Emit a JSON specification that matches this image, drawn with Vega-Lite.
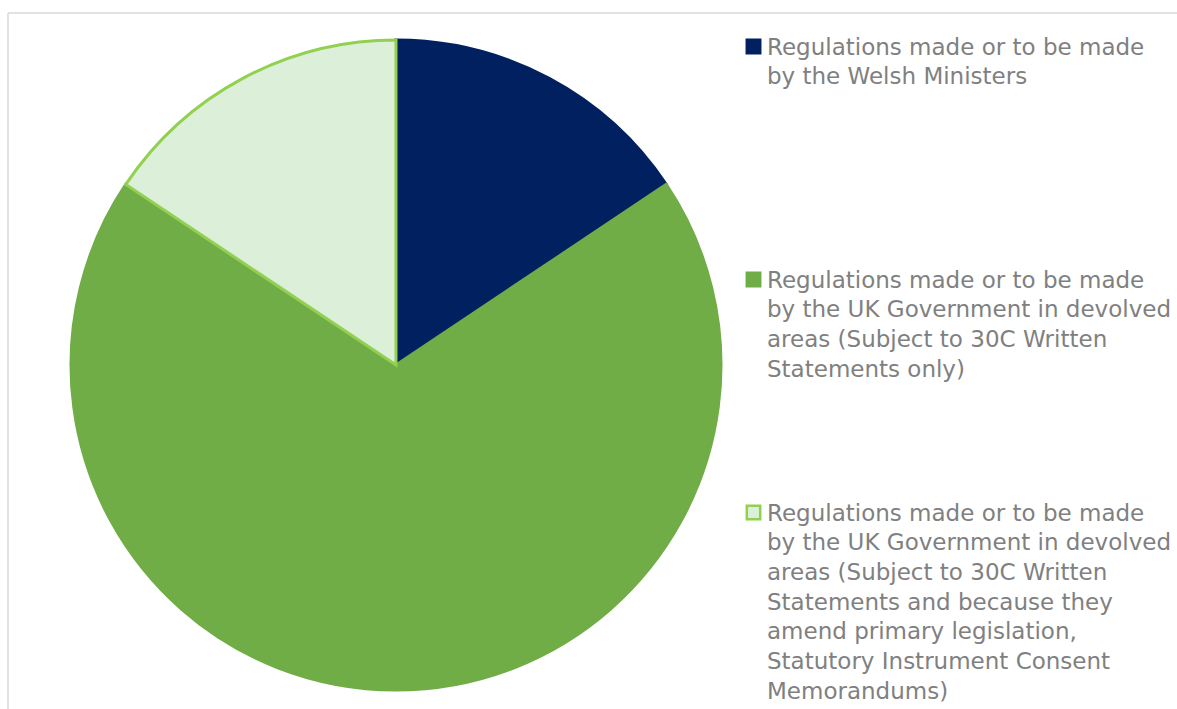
{
  "$schema": "https://vega.github.io/schema/vega-lite/v6.json",
  "autosize": "none",
  "padding": {"left": 8, "top": 13, "right": 0, "bottom": 0},
  "width": 1169,
  "height": 696,
  "background": "white",
  "view": {"stroke": "#d9d9d9", "strokeWidth": 1.5, "strokeDash": [1169, 1865, 696, 0]},
  "data": {"values": [
    {"category": "Regulations made or to be made by the Welsh Ministers", "count": 5, "n": 1},
    {"category": "Regulations made or to be made by the UK Government in devolved areas (Subject to 30C Written Statements only)", "count": 22, "n": 2},
    {"category": "Regulations  made or to be made by the UK Government in devolved areas (Subject to 30C Written Statements and because they amend primary legislation, Statutory Instrument Consent Memorandums)", "count": 5, "n": 3}
  ]},
  "layer": [{
  "mark": {"type": "arc", "x": 388, "y": 352, "outerRadius": 325, "strokeWidth": 3, "strokeJoin": "miter"},
  "encoding": {
    "theta": {"field": "count", "type": "quantitative", "stack": true},
    "order": {"field": "n", "type": "quantitative"},
    "color": {
      "field": "category", "type": "nominal",
      "scale": {"domain": [
        "Regulations made or to be made by the Welsh Ministers",
        "Regulations made or to be made by the UK Government in devolved areas (Subject to 30C Written Statements only)",
        "Regulations  made or to be made by the UK Government in devolved areas (Subject to 30C Written Statements and because they amend primary legislation, Statutory Instrument Consent Memorandums)"
      ], "range": ["#002060", "#70ad47", "#dcefd9"]},
      "legend": {
        "orient": "none", "legendX": 734, "legendY": 22, "padding": 0,
        "title": null,
        "symbolType": "square", "symbolSize": 180, "symbolStrokeWidth": 2.5,
        "labelFont": "DejaVu Sans", "labelFontSize": 23, "labelColor": "#808080",
        "labelLimit": 0, "labelOffset": 2,
        "labelBaseline": "top",
        "rowPadding": 29,
        "encoding": {"labels": {"lineHeight": {"value": 29.7}, "dy": {"value": -10}}},
        "labelExpr": "indexof(datum.label,'Welsh')>=0 ? ['Regulations made or to be made','by the Welsh Ministers','','','','',''] : indexof(datum.label,'only')>=0 ? ['Regulations made or to be made','by the UK Government in devolved','areas (Subject to 30C Written','Statements only)','','',''] : ['Regulations  made or to be made','by the UK Government in devolved','areas (Subject to 30C Written','Statements and because they','amend primary legislation,','Statutory Instrument Consent','Memorandums)']"
      }
    },
    "stroke": {
      "field": "category", "type": "nominal",
      "scale": {"domain": [
        "Regulations made or to be made by the Welsh Ministers",
        "Regulations made or to be made by the UK Government in devolved areas (Subject to 30C Written Statements only)",
        "Regulations  made or to be made by the UK Government in devolved areas (Subject to 30C Written Statements and because they amend primary legislation, Statutory Instrument Consent Memorandums)"
      ], "range": ["#002060", "#70ad47", "#92d050"]}
    }
  }}]
}
